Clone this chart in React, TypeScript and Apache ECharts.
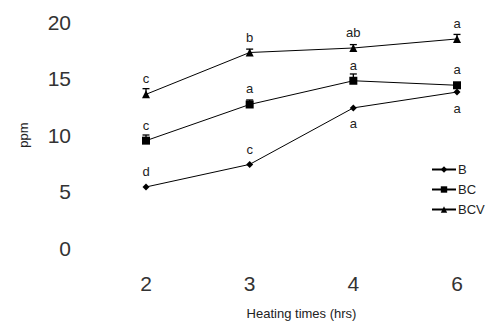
import React, { useEffect, useRef } from "react";
import * as echarts from "echarts";

const categories = ["2", "3", "4", "6"];
const seriesB = [5.4, 7.4, 12.4, 13.8];
const seriesBC = [9.5, 12.7, 14.8, 14.4];
const seriesBCV = [13.6, 17.3, 17.7, 18.5];
const errB = [0, 0, 0, 0];
const errBC = [0.5, 0.4, 0.6, 0.2];
const errBCV = [0.5, 0.3, 0.3, 0.4];
const lettersB = ["d", "c", "a", "a"];
const lettersBC = ["c", "a", "a", "a"];
const lettersBCV = ["c", "b", "ab", "a"];
const labelBelowB = [false, false, true, true];
const yTicks = [0, 5, 10, 15, 20];

const FONT = "Liberation Sans";

function withLabels(values: number[], letters: string[], below?: boolean[]) {
  return values.map((v, i) => ({
    value: v,
    label: {
      show: true,
      formatter: letters[i],
      position: below && below[i] ? "bottom" : "top",
      distance: below && below[i] ? 6 : 5,
      fontSize: 13,
      color: "#222",
      fontWeight: "normal",
      fontFamily: FONT,
    },
  }));
}

function errorSeries(values: number[], errs: number[]) {
  return {
    type: "custom",
    silent: true,
    z: 3,
    data: values.map((v, i) => [i, v, v + errs[i]]),
    renderItem: (params: any, api: any) => {
      const x = api.value(0);
      const lo = api.coord([x, api.value(1)]);
      const hi = api.coord([x, api.value(2)]);
      if (Math.abs(lo[1] - hi[1]) < 0.5) return { type: "group", children: [] };
      const style = { stroke: "#000", lineWidth: 1.3 };
      return {
        type: "group",
        children: [
          { type: "line", shape: { x1: lo[0], y1: lo[1], x2: hi[0], y2: hi[1] }, style },
          { type: "line", shape: { x1: hi[0] - 3.5, y1: hi[1], x2: hi[0] + 3.5, y2: hi[1] }, style },
        ],
      };
    },
  };
}

export default function App() {
  const ref = useRef<HTMLDivElement>(null);
  useEffect(() => {
    if (!ref.current) return;
    const chart = echarts.init(ref.current, undefined, { renderer: "svg" });
    const lineCommon = {
      type: "line",
      lineStyle: { color: "#000", width: 1 },
      itemStyle: { color: "#000" },
      z: 4,
    };
    chart.setOption({
      animation: false,
      backgroundColor: "#fff",
      textStyle: { fontFamily: FONT },
      grid: { left: 146, right: 36, top: 22, bottom: 81 },
      legend: {
        orient: "vertical",
        left: 426,
        top: 158,
        itemWidth: 24,
        itemHeight: 8,
        itemGap: 7,
        textStyle: { fontSize: 13, color: "#222", fontFamily: FONT, padding: [0, 0, 0, -3] },
        data: ["B", "BC", "BCV"],
      },
      xAxis: {
        type: "category",
        data: categories,
        boundaryGap: false,
        axisLine: { show: false },
        axisTick: { show: false },
        axisLabel: { fontSize: 21, color: "#333", margin: 25, fontFamily: FONT },
        name: "Heating times (hrs)",
        nameLocation: "middle",
        nameGap: 59,
        nameTextStyle: { fontSize: 13, color: "#222", fontFamily: FONT },
      },
      yAxis: {
        type: "value",
        min: yTicks[0],
        max: yTicks[yTicks.length - 1],
        interval: 5,
        axisLine: { show: false },
        axisTick: { show: false },
        splitLine: { show: false },
        axisLabel: { fontSize: 21, color: "#333", margin: 75, fontFamily: FONT },
        name: "ppm",
        nameLocation: "middle",
        nameGap: 116,
        nameRotate: 90,
        nameTextStyle: { fontSize: 13, color: "#222", fontFamily: FONT },
      },
      series: [
        { ...lineCommon, name: "B", symbol: "diamond", symbolSize: 7, data: withLabels(seriesB, lettersB, labelBelowB) },
        { ...lineCommon, name: "BC", symbol: "rect", symbolSize: 8, data: withLabels(seriesBC, lettersBC) },
        { ...lineCommon, name: "BCV", symbol: "triangle", symbolSize: 8, data: withLabels(seriesBCV, lettersBCV) },
        errorSeries(seriesB, errB),
        errorSeries(seriesBC, errBC),
        errorSeries(seriesBCV, errBCV),
      ],
    });
    return () => chart.dispose();
  }, []);
  return <div ref={ref} style={{ width: 493, height: 329, position: "absolute", left: 0, top: 0 }} />;
}
